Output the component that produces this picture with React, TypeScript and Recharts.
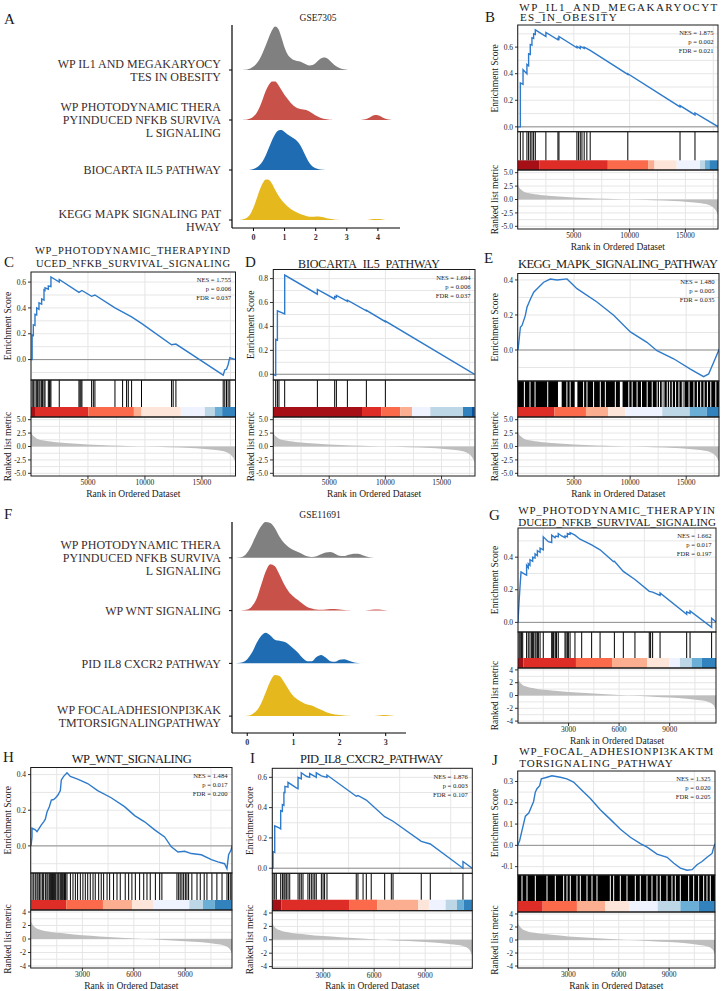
import React from "react";
import {
  LineChart,
  Line,
  AreaChart,
  Area,
  ComposedChart,
  XAxis,
  YAxis,
  CartesianGrid,
  ReferenceLine,
  ReferenceArea,
} from "recharts";

const SERIF = '"Liberation Serif", "Times New Roman", serif';

// ---------- ridge plot data (density heights, per ridge) ----------
const ridgeAx = [
  -0.5, -0.4, -0.3, -0.2, -0.1, 0, 0.1, 0.2, 0.3, 0.4, 0.5, 0.6, 0.7, 0.8, 0.9, 1.0, 1.1, 1.2, 1.3, 1.4, 1.5, 1.6,
  1.7, 1.8, 1.9, 2.0, 2.1, 2.2, 2.3, 2.4, 2.5, 2.6, 2.7, 2.8, 2.9, 3.0, 3.1, 3.2, 3.3, 3.4, 3.5, 3.6, 3.7, 3.8, 3.9,
  4.0, 4.1, 4.2, 4.3, 4.4, 4.5,
];
const ridgeAGray = [
  0, 0, 0.005, 0.01, 0.03, 0.07, 0.13, 0.22, 0.35, 0.5, 0.66, 0.8, 0.87, 0.82, 0.65, 0.45, 0.31, 0.24, 0.2, 0.18,
  0.17, 0.14, 0.11, 0.09, 0.1, 0.14, 0.2, 0.24, 0.25, 0.22, 0.16, 0.1, 0.06, 0.03, 0.015, 0.005, 0, 0, 0, 0, 0, 0,
  0, 0, 0, 0, 0, 0, 0, 0, 0,
];
const ridgeARed = [
  0, 0, 0.005, 0.01, 0.03, 0.07, 0.14, 0.26, 0.42, 0.59, 0.71, 0.77, 0.77, 0.7, 0.6, 0.5, 0.42, 0.34, 0.28, 0.24,
  0.22, 0.21, 0.2, 0.17, 0.13, 0.09, 0.06, 0.035, 0.02, 0.01, 0.005, 0, 0, 0, 0, 0, 0, 0, 0, 0, 0.005, 0.015, 0.04,
  0.075, 0.1, 0.095, 0.07, 0.035, 0.015, 0.005, 0,
];
const ridgeABlue = [
  0, 0, 0, 0, 0.005, 0.02, 0.05, 0.1, 0.18, 0.3, 0.45, 0.6, 0.72, 0.79, 0.8, 0.76, 0.71, 0.67, 0.63, 0.58, 0.5,
  0.38, 0.25, 0.14, 0.07, 0.035, 0.015, 0.006, 0.002, 0, 0, 0, 0, 0, 0, 0, 0, 0, 0, 0, 0, 0, 0, 0, 0, 0, 0, 0, 0,
  0, 0,
];
const ridgeAYellow = [
  0, 0.005, 0.02, 0.05, 0.12, 0.25, 0.42, 0.6, 0.74, 0.81, 0.8, 0.72, 0.6, 0.49, 0.4, 0.33, 0.27, 0.22, 0.18,
  0.15, 0.12, 0.1, 0.08, 0.065, 0.065, 0.07, 0.07, 0.06, 0.045, 0.03, 0.02, 0.01, 0.005, 0, 0, 0, 0, 0, 0, 0, 0, 0,
  0.005, 0.015, 0.02, 0.02, 0.015, 0.005, 0, 0, 0,
];
const ridgeALabels = [
  ["KEGG MAPK SIGNALING PAT", "HWAY"],
  ["BIOCARTA IL5 PATHWAY"],
  ["WP PHOTODYNAMIC THERA", "PYINDUCED NFKB SURVIVA", "L SIGNALING"],
  ["WP IL1 AND MEGAKARYOCY", "TES IN OBESITY"],
];

const ridgeFx = [
  -0.3, -0.2, -0.1, 0, 0.1, 0.2, 0.3, 0.4, 0.5, 0.6, 0.7, 0.8, 0.9, 1.0, 1.1, 1.2, 1.3, 1.4, 1.5, 1.6, 1.7, 1.8,
  1.9, 2.0, 2.1, 2.2, 2.3, 2.4, 2.5, 2.6, 2.7, 2.8, 2.9, 3.0, 3.1, 3.2, 3.3,
];
const ridgeFGray = [
  0, 0.005, 0.02, 0.1, 0.25, 0.44, 0.6, 0.68, 0.66, 0.56, 0.4, 0.28, 0.2, 0.15, 0.11, 0.07, 0.03, 0.015, 0.03,
  0.07, 0.1, 0.11, 0.08, 0.04, 0.035, 0.06, 0.08, 0.08, 0.05, 0.02, 0.005, 0, 0, 0, 0, 0, 0,
];
const ridgeFRed = [
  0, 0, 0.005, 0.02, 0.08, 0.22, 0.48, 0.74, 0.88, 0.84, 0.68, 0.5, 0.36, 0.27, 0.2, 0.13, 0.07, 0.04, 0.02,
  0.015, 0.02, 0.03, 0.03, 0.02, 0.01, 0.005, 0, 0, 0, 0.005, 0.015, 0.02, 0.015, 0.005, 0, 0, 0,
];
const ridgeFBlue = [
  0, 0.005, 0.02, 0.08, 0.2, 0.38, 0.52, 0.58, 0.53, 0.45, 0.43, 0.41, 0.36, 0.28, 0.2, 0.1, 0.04, 0.04, 0.12,
  0.16, 0.11, 0.04, 0.03, 0.07, 0.08, 0.05, 0.02, 0.005, 0, 0, 0, 0, 0, 0, 0, 0, 0,
];
const ridgeFYellow = [
  0, 0, 0, 0.005, 0.03, 0.1, 0.24, 0.45, 0.66, 0.78, 0.76, 0.64, 0.5, 0.38, 0.31, 0.26, 0.22, 0.2, 0.16, 0.12,
  0.08, 0.05, 0.03, 0.02, 0.01, 0.005, 0, 0, 0, 0, 0, 0.005, 0.015, 0.02, 0.01, 0, 0,
];
const ridgeFLabels = [
  ["WP FOCALADHESIONPI3KAK", "TMTORSIGNALINGPATHWAY"],
  ["PID IL8 CXCR2 PATHWAY"],
  ["WP WNT SIGNALING"],
  ["WP PHOTODYNAMIC THERA", "PYINDUCED NFKB SURVIVA", "L SIGNALING"],
];
const RIDGE_COLORS = ["#E5B81D", "#1F6CB3", "#C8514A", "#808080"];

// ---------- GSEA data ----------
const N7305 = 17950;
const N11691 = 11750;

// ranked list metric (rank, value)
const metric7305 = [
  [0, 2.8], [100, 2.3], [250, 1.9], [500, 1.5], [1000, 1.15], [2000, 0.85], [3000, 0.65], [5000, 0.38],
  [7000, 0.18], [9000, 0.05], [10000, -0.02], [12000, -0.15], [14000, -0.3], [15000, -0.42], [16000, -0.6],
  [16800, -0.85], [17300, -1.2], [17600, -1.7], [17800, -2.3], [17950, -3.0],
];
const metric11691 = [
  [0, 2.6], [100, 2.1], [250, 1.7], [500, 1.4], [1000, 1.1], [2000, 0.8], [3000, 0.55], [4000, 0.38],
  [5000, 0.22], [6000, 0.08], [7000, -0.05], [8000, -0.18], [9000, -0.32], [10000, -0.5], [10800, -0.75],
  [11300, -1.0], [11600, -1.5], [11750, -2.3],
];

// running enrichment score (rank, ES)
const esB = [
  [0, 0], [210, 0], [210, 0.33], [450, 0.32], [450, 0.43], [800, 0.4], [800, 0.47], [950, 0.46], [950, 0.55],
  [1100, 0.545], [1100, 0.62], [1250, 0.615], [1250, 0.67], [1400, 0.665], [1400, 0.7], [1550, 0.695],
  [1550, 0.73], [2500, 0.68], [2500, 0.71], [3580, 0.655], [3580, 0.665], [3670, 0.66], [3670, 0.68],
  [5280, 0.595], [5280, 0.605], [5580, 0.59], [5580, 0.605], [5930, 0.59], [5930, 0.6], [6470, 0.575],
  [9840, 0.395], [9840, 0.4], [14520, 0.15], [14520, 0.16], [15860, 0.09], [15860, 0.105], [17950, 0],
];
const esC = [
  [0, 0], [100, 0], [100, 0.19], [205, 0.185], [205, 0.27], [350, 0.265], [350, 0.35], [500, 0.345], [500, 0.4],
  [700, 0.39], [700, 0.44], [935, 0.43], [935, 0.47], [1140, 0.46], [1140, 0.54], [1230, 0.535], [1230, 0.555],
  [1520, 0.545], [1520, 0.57], [1750, 0.565], [1750, 0.64], [2480, 0.6], [2480, 0.62], [4210, 0.52],
  [4470, 0.535], [5320, 0.49], [5610, 0.5], [7370, 0.4], [8830, 0.33], [9700, 0.28], [12340, 0.115],
  [12720, 0.12], [16870, -0.12], [17010, -0.08], [17160, -0.075], [17300, -0.04], [17450, 0.015], [17950, 0],
];
const esD = [
  [0, 0], [240, -0.01], [240, 0.29], [390, 0.285], [390, 0.53], [1040, 0.505], [1040, 0.83], [3950, 0.67],
  [3950, 0.71], [5490, 0.63], [5490, 0.65], [5640, 0.645], [5640, 0.66], [6620, 0.61], [6620, 0.62],
  [8310, 0.53], [8310, 0.535], [10000, 0.44], [10000, 0.445], [17950, 0],
];
const esE = [
  [0, 0], [60, 0.034], [210, 0.13], [360, 0.14], [650, 0.196], [800, 0.244], [1100, 0.29], [1400, 0.33],
  [1840, 0.358], [2290, 0.387], [2880, 0.405], [3480, 0.4], [4370, 0.406], [5260, 0.35], [7040, 0.274],
  [8530, 0.198], [10020, 0.103], [11500, 0.044], [12390, -0.004], [13880, -0.05], [15370, -0.109],
  [16550, -0.152], [17000, -0.137], [17450, -0.07], [17950, 0.006],
];
const esG = [
  [0, 0], [60, 0.12], [120, 0.22], [180, 0.31], [420, 0.295], [510, 0.29], [510, 0.35], [610, 0.335],
  [610, 0.36], [710, 0.35], [710, 0.385], [870, 0.375], [870, 0.4], [1010, 0.395], [1010, 0.42], [1150, 0.41],
  [1150, 0.44], [1310, 0.43], [1310, 0.455], [1500, 0.445], [1500, 0.525], [1800, 0.495], [2000, 0.49],
  [2000, 0.535], [2200, 0.52], [2250, 0.53], [2390, 0.525], [2390, 0.545], [2590, 0.53], [2790, 0.52],
  [2790, 0.53], [2930, 0.525], [2930, 0.545], [3090, 0.54], [3090, 0.55], [3380, 0.535], [3680, 0.51],
  [4370, 0.475], [4870, 0.445], [5660, 0.374], [5720, 0.375], [6250, 0.313], [6940, 0.263], [7790, 0.19],
  [7990, 0.186], [8430, 0.165], [8430, 0.18], [10010, 0.05], [10010, 0.065], [10210, 0.055], [10210, 0.07],
  [11490, -0.03], [11490, 0.025], [11750, 0.003],
];
const esH = [
  [0, 0], [58, 0.05], [58, 0.1], [253, 0.09], [350, 0.08], [486, 0.1], [584, 0.115], [739, 0.135], [836, 0.15],
  [934, 0.19], [1070, 0.22], [1187, 0.257], [1323, 0.26], [1439, 0.27], [1575, 0.285], [1712, 0.31],
  [1770, 0.37], [1906, 0.39], [2101, 0.41], [2295, 0.39], [2723, 0.375], [3307, 0.35], [3890, 0.31],
  [4680, 0.27], [5460, 0.22], [6050, 0.17], [6630, 0.135], [7220, 0.09], [7800, 0.05], [8190, -0.005],
  [8580, -0.034], [8970, -0.03], [9360, -0.043], [9940, -0.05], [10530, -0.077], [10910, -0.09],
  [11300, -0.1], [11437, -0.128], [11534, -0.05], [11670, -0.025], [11750, 0.004],
];
const esI = [
  [0, 0], [60, 0], [60, 0.11], [160, 0.105], [160, 0.28], [450, 0.265], [510, 0.26], [510, 0.38], [610, 0.375],
  [610, 0.42], [700, 0.415], [700, 0.5], [760, 0.5], [760, 0.54], [940, 0.535], [940, 0.567], [1430, 0.53],
  [1530, 0.525], [1530, 0.6], [1720, 0.59], [1720, 0.63], [2020, 0.607], [2210, 0.6], [2210, 0.625],
  [2510, 0.607], [2600, 0.6], [2600, 0.63], [2900, 0.61], [3230, 0.6], [3230, 0.615], [4950, 0.475],
  [5050, 0.48], [5540, 0.45], [6620, 0.34], [7110, 0.31], [8770, 0.177], [9300, 0.16], [11220, 0],
  [11220, 0.044], [11750, 0],
];
const esJ = [
  [0, 0], [20, 0.008], [100, 0.023], [240, 0.07], [440, 0.137], [640, 0.152], [830, 0.187], [930, 0.206],
  [1030, 0.25], [1130, 0.266], [1290, 0.28], [1390, 0.312], [1730, 0.32], [2020, 0.327], [2520, 0.32],
  [2910, 0.312], [3310, 0.297], [3710, 0.266], [4310, 0.22], [4900, 0.167], [5500, 0.122], [6100, 0.076],
  [6690, 0.038], [7290, 0.008], [7690, -0.008], [8280, -0.041], [8880, -0.056], [9280, -0.084],
  [9670, -0.107], [10070, -0.117], [10370, -0.114], [10660, -0.091], [10960, -0.076], [11260, -0.056],
  [11560, -0.038], [11660, -0.008], [11750, 0.008],
];

// gene set hit positions (ranks)
const hitsB = [
  210, 450, 800, 950, 1100, 1250, 1400, 1550, 2500, 3580, 3670, 5280, 5430, 5580, 5730, 5930, 6170, 6470,
  9840, 14520, 15860,
];
const hitsC = [
  100, 205, 350, 500, 585, 700, 790, 935, 1020, 1140, 1230, 1520, 1610, 1670, 1750, 2480, 4210, 4300, 4385,
  4470, 5320, 5470, 5610, 7370, 8040, 8390, 8540, 8830, 9700, 12340, 12480, 12720, 16870, 17010, 17160, 17300,
  17450,
];
const hitsD = [240, 390, 530, 1040, 3950, 5490, 5640, 6620, 8310, 10000];
const hitsG = [
  60, 120, 180, 220, 280, 510, 610, 710, 810, 870, 910, 1010, 1070, 1150, 1210, 1310, 1500, 2000, 2060, 2100,
  2200, 2250, 2290, 2390, 2790, 2850, 2930, 2990, 3090, 3380, 3780, 4370, 4870, 5720, 6250, 6940, 7790, 7870,
  7990, 8430, 10010, 10210, 11490,
];
const hitsH = [
  60, 160, 250, 350, 410, 490, 580, 680, 740, 840, 930, 990, 1070, 1130, 1190, 1250, 1320, 1380, 1440, 1520,
  1580, 1630, 1710, 1770, 1830, 1910, 1960, 2020, 2100, 2300, 2450, 2590, 2720, 2880, 3030, 3170, 3310, 3460,
  3620, 3750, 3950, 4100, 4240, 4440, 4590, 4820, 5020, 5210, 5500, 5700, 5890, 6090, 6340, 6580, 6770, 6960,
  7260, 7510, 7640, 8520, 8620, 8710, 8810, 8910, 9010, 9100, 9200, 9390, 9690, 9880, 10110, 10270, 10560,
  10850, 11150, 11440, 11530, 11630, 11730,
];
const hitsI = [
  60, 160, 250, 510, 610, 700, 760, 840, 940, 1040, 1530, 1630, 1720, 1820, 2110, 2210, 2310, 2410, 2510, 2600,
  2900, 3000, 3090, 3230, 4950, 5050, 5350, 5540, 5830, 6620, 7010, 7110, 8770, 9300, 11220,
];
// dense sets: ranks that are NOT hits (white gaps in the black bar)
const gapsE = [
  570, 1070, 1520, 2650, 3610, 3700, 3780, 3850, 4360, 4650, 5100, 5170, 5250, 5850, 6150, 6740, 7340, 7790,
  8680, 9130, 9200, 9280, 9880, 10180, 10620, 11010, 11520, 11970, 12410, 12620, 12860, 13010, 13310, 13520,
  13760, 14050, 14350, 14650, 14800, 15250, 15690, 16000, 16290, 16590, 16890, 17190, 17640,
];
const gapsJ = [
  238, 536, 1032, 1727, 2223, 2719, 2918, 3116, 3513, 3712, 4109, 4407, 4704, 5498, 5697, 6094, 6491, 6987,
  7285, 7682, 7980, 8277, 8476, 8873, 9171, 9369, 9667, 10163, 10461, 10759, 11056, 11255, 11453,
];

// colour strip: segment boundaries (ranks) and palette index per segment
const STRIP_PAL = [
  "#A50F15", "#DE2D26", "#FB6A4A", "#FCAE91", "#FEE5D9", "#EFF3FF", "#BDD7E7", "#6BAED6", "#3182BD", "#08519C",
];
const stripB = [0, 1940, 8050, 11690, 12230, 14220, 16310, 16760, 17150, 17950];
const stripBCol = [0, 1, 2, 3, 4, 5, 6, 7, 8];
const stripC = [0, 350, 5030, 9030, 9700, 13150, 15260, 16130, 16780, 17950];
const stripCCol = [0, 1, 2, 3, 4, 5, 6, 7, 8];
const stripD = [0, 7920, 9640, 11330, 12370, 14000, 16910, 17710, 17950];
const stripDCol = [0, 1, 2, 3, 5, 6, 8, 9];
const stripE = [0, 3250, 6060, 8030, 9580, 12860, 15310, 16830, 17950];
const stripECol = [1, 2, 3, 4, 5, 6, 7, 8];
const stripG = [0, 320, 3440, 5580, 7670, 8960, 9610, 10310, 10900, 11750];
const stripGCol = [0, 1, 2, 3, 4, 5, 6, 7, 8];
const stripH = [0, 2060, 4200, 5910, 7160, 9240, 10040, 10720, 11750];
const stripHCol = [1, 2, 3, 4, 5, 6, 7, 8];
const stripI = [0, 550, 4560, 6190, 8580, 9220, 10200, 10870, 11260, 11750];
const stripICol = [0, 1, 2, 3, 4, 5, 6, 7, 8];
const stripJ = [0, 1470, 3510, 5200, 6650, 8320, 9670, 10760, 11750];
const stripJCol = [1, 2, 3, 4, 5, 6, 7, 8];

const statsB = ["NES = 1.875", "p = 0.002", "FDR = 0.021"];
const statsC = ["NES = 1.755", "p = 0.006", "FDR = 0.037"];
const statsD = ["NES = 1.694", "p = 0.006", "FDR = 0.037"];
const statsE = ["NES = 1.480", "p = 0.005", "FDR = 0.035"];
const statsG = ["NES = 1.662", "p = 0.017", "FDR = 0.197"];
const statsH = ["NES = 1.484", "p = 0.017", "FDR = 0.200"];
const statsI = ["NES = 1.876", "p = 0.003", "FDR = 0.107"];
const statsJ = ["NES = 1.325", "p = 0.020", "FDR = 0.205"];

const xTicks7305 = [5000, 10000, 15000];
const xTicks11691 = [3000, 6000, 9000];
const mTicks7305 = [-5, -2.5, 0, 2.5, 5];
const mTicks11691 = [-4, -2, 0, 2, 4];

const ES_BLUE = "#2E7BCB";
const AXW = 40;
const PADT = 6; // room above plot so edge tick labels are not clipped
const tickStyle = { fontSize: 7.5, fill: "#222", fontFamily: SERIF };

function halves(ticks: number[], lo: number, hi: number) {
  const step = ticks[1] - ticks[0];
  const out: number[] = [];
  for (let v = ticks[0] - step; v <= hi + 1e-9; v += step / 2) {
    const r = Math.round(v * 10000) / 10000;
    if (r >= lo && r <= hi) out.push(r);
  }
  return out;
}

function RidgeTick(props: any) {
  const { x, y, payload, labels } = props;
  const lines: string[] = labels[payload.value] || [];
  const lh = 12.8;
  const y0 = y - ((lines.length - 1) * lh) / 2 + 4.2;
  return (
    <text x={x} y={y0} textAnchor="end" fontSize={12} fontFamily={SERIF} fill="#3b2c2c">
      {lines.map((s, i) => (
        <tspan key={i} x={x} y={y0 + i * lh}>
          {s}
        </tspan>
      ))}
    </text>
  );
}

function Ridge(props: any) {
  const { xs, series, labels, top, axisW, plotW, plotH, xDom, yDom, xTicks } = props;
  const data = xs.map((x: number, i: number) => {
    const row: any = { x };
    series.forEach((s: number[], k: number) => (row["s" + k] = s[i]));
    return row;
  });
  return (
    <div style={{ position: "absolute", left: 0, top: top - PADT }}>
      <ComposedChart
        width={axisW + plotW}
        height={plotH + 16 + PADT}
        data={data}
        margin={{ top: PADT, right: 0, bottom: 0, left: 0 }}
      >
        <XAxis
          type="number"
          dataKey="x"
          domain={xDom}
          ticks={xTicks}
          interval={0}
          allowDataOverflow
          height={16}
          axisLine={{ stroke: "#000", strokeWidth: 1.2 }}
          tickLine={{ stroke: "#000" }}
          tickSize={3}
          tickMargin={3}
          tick={{ fontSize: 8, fontWeight: 700, fill: "#333", fontFamily: SERIF }}
        />
        <YAxis
          type="number"
          domain={yDom}
          ticks={[0, 1, 2, 3]}
          interval={0}
          allowDataOverflow
          width={axisW}
          axisLine={{ stroke: "#000", strokeWidth: 1.2 }}
          tickLine={{ stroke: "#000" }}
          tickSize={3}
          tickMargin={8}
          tick={<RidgeTick labels={labels} />}
        />
        {[3, 2, 1, 0].map((k) => (
          <Area
            key={k}
            name={"ridge" + k}
            type="monotone"
            dataKey={(d: any) => [k, k + d["s" + k]]}
            fill={RIDGE_COLORS[k]}
            fillOpacity={1}
            stroke="none"
            isAnimationActive={false}
          />
        ))}
      </ComposedChart>
    </div>
  );
}

function Gsea({ p }: { p: any }) {
  const { L, R, T, E, H, S, B } = p.geo;
  const w = R - L;
  const esData = p.es.map(([x, y]: number[]) => ({ x, y }));
  const ys = p.es.map((d: number[]) => d[1]);
  const lo = Math.min(...ys);
  const hi = Math.max(...ys);
  const pad = (hi - lo) * 0.05;
  const esDom = [lo - pad, hi + pad];
  const esGrid = halves(p.esTicks, esDom[0], esDom[1]);
  const xGrid = halves(p.xTicks, 0, p.N);
  const mGrid = halves(p.mTicks, p.mDom[0], p.mDom[1]);
  const metricData = p.metric.map(([x, y]: number[]) => ({ x, y }));
  const f = (S - H) / (S - E);
  const stripData = p.strip.map((x: number) => ({ x }));
  const topMargin = { top: PADT, right: 0, bottom: 0, left: 0 };

  // dense sets: black runs between the listed gaps
  const runs: number[][] = [];
  if (p.gaps) {
    const gw = p.N / w;
    let s = 0;
    p.gaps.forEach((g: number) => {
      if (g - gw / 2 > s) runs.push([s, g - gw / 2]);
      s = g + gw / 2;
    });
    runs.push([s, p.N]);
  }
  const mFmt = (v: number) => (p.mTicks[1] - p.mTicks[0] === 2.5 ? v.toFixed(1) : String(v));

  return (
    <>
      <div style={{ position: "absolute", left: L - AXW, top: T - PADT }}>
        <LineChart width={w + AXW} height={E - T + PADT} data={esData} margin={topMargin}>
          <CartesianGrid stroke="#e6e6e6" horizontalValues={esGrid} verticalValues={xGrid} />
          <XAxis type="number" dataKey="x" domain={[0, p.N]} allowDataOverflow hide />
          <YAxis
            type="number"
            domain={esDom}
            ticks={p.esTicks}
            interval={0}
            allowDataOverflow
            width={AXW}
            axisLine={false}
            tickLine={{ stroke: "#333" }}
            tickSize={3}
            tickMargin={2}
            tick={tickStyle}
            tickFormatter={(v: number) => v.toFixed(1)}
          />
          <ReferenceLine y={0} stroke="#8f8f8f" strokeWidth={1} />
          <Line
            type="linear"
            dataKey="y"
            stroke={ES_BLUE}
            strokeWidth={1.4}
            dot={false}
            isAnimationActive={false}
          />
        </LineChart>
      </div>

      <div style={{ position: "absolute", left: L, top: E }}>
        <ComposedChart
          width={w}
          height={S - E}
          data={stripData}
          margin={{ top: 0, right: 0, bottom: 0, left: 0 }}
        >
          <XAxis type="number" dataKey="x" domain={[0, p.N]} allowDataOverflow hide />
          <YAxis type="number" domain={[0, 1]} allowDataOverflow hide />
          {runs.map((r, i) => (
            <ReferenceArea
              key={"r" + i}
              x1={r[0]}
              x2={r[1]}
              y1={f}
              y2={1}
              fill="#000"
              fillOpacity={1}
              stroke="none"
              ifOverflow="visible"
            />
          ))}
          {(p.hits || []).map((h: number, i: number) => (
            <ReferenceLine
              key={"h" + i}
              segment={[
                { x: h, y: f },
                { x: h, y: 1 },
              ]}
              stroke="#000"
              strokeWidth={1}
              ifOverflow="visible"
            />
          ))}
          {p.strip.slice(0, -1).map((x1: number, i: number) => (
            <ReferenceArea
              key={"s" + i}
              x1={x1}
              x2={p.strip[i + 1]}
              y1={0}
              y2={f}
              fill={STRIP_PAL[p.stripCol[i]]}
              fillOpacity={1}
              stroke="none"
              ifOverflow="visible"
            />
          ))}
        </ComposedChart>
      </div>

      <div style={{ position: "absolute", left: L - AXW, top: S - PADT }}>
        <AreaChart width={w + AXW} height={B - S + 14 + PADT} data={metricData} margin={topMargin}>
          <CartesianGrid stroke="#e6e6e6" horizontalValues={mGrid} verticalValues={xGrid} />
          <XAxis
            type="number"
            dataKey="x"
            domain={[0, p.N]}
            ticks={p.xTicks}
            interval={0}
            allowDataOverflow
            height={14}
            axisLine={false}
            tickLine={{ stroke: "#333" }}
            tickSize={3}
            tickMargin={1}
            tick={tickStyle}
          />
          <YAxis
            type="number"
            domain={p.mDom}
            ticks={p.mTicks}
            interval={0}
            allowDataOverflow
            width={AXW}
            axisLine={false}
            tickLine={{ stroke: "#333" }}
            tickSize={3}
            tickMargin={2}
            tick={tickStyle}
            tickFormatter={mFmt}
          />
          <Area
            type="monotone"
            dataKey="y"
            baseValue={0}
            fill="#bebebe"
            fillOpacity={1}
            stroke="none"
            isAnimationActive={false}
          />
        </AreaChart>
      </div>

      <svg
        width={721}
        height={991}
        style={{ position: "absolute", left: 0, top: 0, pointerEvents: "none" }}
        fontFamily={SERIF}
      >
        <rect x={L} y={T} width={w} height={E - T} fill="none" stroke="#1a1a1a" strokeWidth={1} />
        <rect x={L} y={E} width={w} height={S - E} fill="none" stroke="#1a1a1a" strokeWidth={1} />
        <rect x={L} y={S} width={w} height={B - S} fill="none" stroke="#1a1a1a" strokeWidth={1} />
        {p.stats.map((s: string, i: number) => (
          <text key={s} x={R - 4.5} y={T + 10.3 + i * 9} textAnchor="end" fontSize={6.6} fill="#222">
            {s}
          </text>
        ))}
        <text
          transform={`translate(${L - 23},${(T + E) / 2}) rotate(-90)`}
          textAnchor="middle"
          dy="0.35em"
          fontSize={9.5}
          fill="#222"
        >
          Enrichment Score
        </text>
        <text
          transform={`translate(${L - 23},${(S + B) / 2}) rotate(-90)`}
          textAnchor="middle"
          dy="0.35em"
          fontSize={9.5}
          fill="#222"
        >
          Ranked list metric
        </text>
        <text x={(L + R) / 2} y={B + 20.5} textAnchor="middle" fontSize={9.5} fill="#222">
          Rank in Ordered Dataset
        </text>
        {p.title.map((t: any, i: number) => (
          <text
            key={i}
            x={t.x}
            y={t.y}
            fontSize={p.titleSize}
            fill="#1a1a1a"
            textLength={t.w}
            lengthAdjust="spacing"
          >
            {t.t}
          </text>
        ))}
        <text x={p.letter[0]} y={p.letter[1]} fontSize={15} fill="#1a1a1a">
          {p.id}
        </text>
      </svg>
    </>
  );
}

const panels = [
  {
    id: "B", N: N7305, es: esB, hits: hitsB, strip: stripB, stripCol: stripBCol, stats: statsB,
    metric: metric7305, esTicks: [0, 0.2, 0.4, 0.6], xTicks: xTicks7305, mTicks: mTicks7305, mDom: [-5.5, 5.5],
    geo: { L: 517.7, R: 718, T: 25, E: 131.7, H: 160, S: 170, B: 229 }, letter: [485, 21.7], titleSize: 11,
    title: [
      { t: "WP_IL1_AND_MEGAKARYOCYT", x: 519.3, w: 198, y: 10.7 },
      { t: "ES_IN_OBESITY", x: 520, w: 96.7, y: 21 },
    ],
  },
  {
    id: "C", N: N7305, es: esC, hits: hitsC, strip: stripC, stripCol: stripCCol, stats: statsC,
    metric: metric7305, esTicks: [0, 0.2, 0.4, 0.6], xTicks: xTicks7305, mTicks: mTicks7305, mDom: [-5.5, 5.5],
    geo: { L: 31, R: 235.5, T: 272, E: 380, H: 407, S: 417, B: 476 }, letter: [4, 267], titleSize: 10.5,
    title: [
      { t: "WP_PHOTODYNAMIC_THERAPYIND", x: 35, w: 195, y: 254 },
      { t: "UCED_NFKB_SURVIVAL_SIGNALING", x: 36, w: 194, y: 266.5 },
    ],
  },
  {
    id: "D", N: N7305, es: esD, hits: hitsD, strip: stripD, stripCol: stripDCol, stats: statsD,
    metric: metric7305, esTicks: [0, 0.2, 0.4, 0.6, 0.8], xTicks: xTicks7305, mTicks: mTicks7305,
    mDom: [-5.5, 5.5], geo: { L: 273.3, R: 475, T: 269.5, E: 380, H: 407, S: 417, B: 476 }, letter: [245, 267],
    titleSize: 12, title: [{ t: "BIOCARTA_IL5_PATHWAY", x: 298, w: 142, y: 267.5 }],
  },
  {
    id: "E", N: N7305, es: esE, gaps: gapsE, strip: stripE, stripCol: stripECol, stats: statsE,
    metric: metric7305, esTicks: [0, 0.2, 0.4], xTicks: xTicks7305, mTicks: mTicks7305, mDom: [-5.5, 5.5],
    geo: { L: 517.7, R: 719, T: 273.5, E: 381, H: 407, S: 417, B: 476 }, letter: [484, 263], titleSize: 12.5,
    title: [{ t: "KEGG_MAPK_SIGNALING_PATHWAY", x: 518, w: 200, y: 268 }],
  },
  {
    id: "G", N: N11691, es: esG, hits: hitsG, strip: stripG, stripCol: stripGCol, stats: statsG,
    metric: metric11691, esTicks: [0, 0.2, 0.4], xTicks: xTicks11691, mTicks: mTicks11691, mDom: [-4.3, 4.3],
    geo: { L: 518, R: 716, T: 528, E: 632, H: 658, S: 668, B: 723 }, letter: [489, 520], titleSize: 11,
    title: [
      { t: "WP_PHOTODYNAMIC_THERAPYIN", x: 518.3, w: 196.7, y: 514 },
      { t: "DUCED_NFKB_SURVIVAL_SIGNALING", x: 518.3, w: 197.7, y: 525.7 },
    ],
  },
  {
    id: "H", N: N11691, es: esH, hits: hitsH, strip: stripH, stripCol: stripHCol, stats: statsH,
    metric: metric11691, esTicks: [0, 0.2, 0.4], xTicks: xTicks11691, mTicks: mTicks11691, mDom: [-4.3, 4.3],
    geo: { L: 30.7, R: 232, T: 767.5, E: 873, H: 900, S: 910, B: 968 }, letter: [3, 762], titleSize: 12.5,
    title: [{ t: "WP_WNT_SIGNALING", x: 71.7, w: 120, y: 763 }],
  },
  {
    id: "I", N: N11691, es: esI, hits: hitsI, strip: stripI, stripCol: stripICol, stats: statsI,
    metric: metric11691, esTicks: [0, 0.2, 0.4, 0.6], xTicks: xTicks11691, mTicks: mTicks11691,
    mDom: [-4.3, 4.3], geo: { L: 272.3, R: 472.3, T: 768.3, E: 873.3, H: 900, S: 910.7, B: 968.3 },
    letter: [250, 763], titleSize: 12.5, title: [{ t: "PID_IL8_CXCR2_PATHWAY", x: 300, w: 143.3, y: 763 }],
  },
  {
    id: "J", N: N11691, es: esJ, gaps: gapsJ, strip: stripJ, stripCol: stripJCol, stats: statsJ,
    metric: metric11691, esTicks: [-0.1, 0, 0.1, 0.2, 0.3], xTicks: xTicks11691, mTicks: mTicks11691,
    mDom: [-4.3, 4.3], geo: { L: 517.7, R: 715, T: 771, E: 875, H: 901, S: 912, B: 968 }, letter: [492, 765],
    titleSize: 11,
    title: [
      { t: "WP_FOCAL_ADHESIONPI3KAKTM", x: 519.3, w: 194, y: 755 },
      { t: "TORSIGNALING_PATHWAY", x: 519.3, w: 153.4, y: 767 },
    ],
  },
];

export default function App() {
  return (
    <div
      style={{
        position: "absolute",
        left: 0,
        top: 0,
        width: 721,
        height: 991,
        background: "#fff",
        overflow: "hidden",
        fontFamily: SERIF,
      }}
    >
      <Ridge
        xs={ridgeAx}
        series={[ridgeAYellow, ridgeABlue, ridgeARed, ridgeAGray]}
        labels={ridgeALabels}
        top={25}
        axisW={232}
        plotW={168}
        plotH={203}
        xDom={[-0.69, 4.71]}
        yDom={[-0.16, 3.9]}
        xTicks={[0, 1, 2, 3, 4]}
      />
      <Ridge
        xs={ridgeFx}
        series={[ridgeFYellow, ridgeFBlue, ridgeFRed, ridgeFGray]}
        labels={ridgeFLabels}
        top={522}
        axisW={232}
        plotW={174}
        plotH={211}
        xDom={[-0.33, 3.44]}
        yDom={[-0.32, 3.68]}
        xTicks={[0, 1, 2, 3]}
      />
      {panels.map((p) => (
        <Gsea key={p.id} p={p} />
      ))}
      <svg
        width={721}
        height={991}
        style={{ position: "absolute", left: 0, top: 0, pointerEvents: "none" }}
        fontFamily={SERIF}
      >
        <text x={4} y={24} fontSize={15} fill="#1a1a1a">
          A
        </text>
        <text x={4} y={519} fontSize={15} fill="#1a1a1a">
          F
        </text>
        <text x={318} y={21} textAnchor="middle" fontSize={9.5} fill="#222">
          GSE7305
        </text>
        <text x={320} y={518} textAnchor="middle" fontSize={9.5} fill="#222">
          GSE11691
        </text>
      </svg>
    </div>
  );
}
